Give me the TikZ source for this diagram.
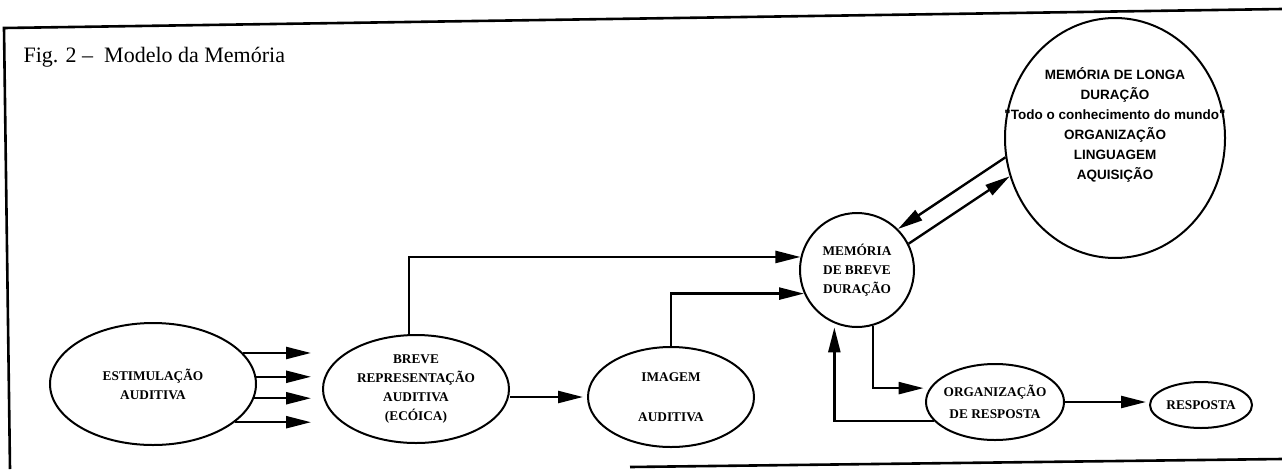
\documentclass[tikz,border=0pt]{standalone}
\usepackage{fontspec}
\setmainfont{Liberation Serif}
\newfontfamily\arialf{Liberation Sans}
\usetikzlibrary{shapes.geometric,arrows.meta,positioning}

\begin{document}
\begin{tikzpicture}[x=1pt,y=-1pt,
        elip/.style={
                draw,
                ellipse,
                line width=2pt,
                inner sep=0pt,
                align=center,
                font=\fontsize{13.3}{19}\selectfont\bfseries
            },
        flec/.style={
                line width=2.4pt,
                -{Triangle[length=25pt,width=12pt]}
            }
    ]
    \useasboundingbox (0,0) rectangle (1282,469);
    % moldura
    \draw[line width=2.6pt] (10,469) -- (4,28) -- (1282,9);
    \draw[line width=2.6pt] (630,467) -- (1282,459);
    \node[anchor=base west,font=\fontsize{22}{26}\selectfont] (titulo) at (20,62)
    {Fig. 2 --\enspace Modelo da Memória};

    \node[elip,minimum width=206pt,minimum height=122pt] (estim) at (153,384)
    {ESTIMULAÇÃO\\AUDITIVA};
    \node[elip,minimum width=186pt,minimum height=108pt] (brev) at (416,389)
    {BREVE\\REPRESENTAÇÃO\\AUDITIVA\\(ECÓICA)};
    \node[elip,minimum width=166pt,minimum height=100pt] (imag) at (671,397)
    {IMAGEM\\[21pt]AUDITIVA};
    \node[elip,minimum width=114pt,minimum height=114pt] (mbd) at (857,270)
    {MEMÓRIA\\DE BREVE\\DURAÇÃO};
    \node[elip,inner xsep=-14pt,minimum width=138pt,minimum height=76pt] (org) at (995,402)
    {ORGANIZAÇÃO\\[3pt]DE RESPOSTA};
    \node[elip,minimum width=102pt,minimum height=46pt] (resp) at (1201,405)
    {RESPOSTA};
    \node[draw,ellipse,line width=2pt,minimum width=220pt,minimum height=240pt] (longa) at (1115,138) {};
    \node[align=center,font=\arialf\bfseries\fontsize{13.5}{20}\selectfont] (longatxt) at (1115,125)
    {MEMÓRIA DE LONGA\\DURAÇÃO\\"Todo o conhecimento do mundo"\\ORGANIZAÇÃO\\LINGUAGEM\\AQUISIÇÃO};

    \foreach \ang in {19,4,-8,-25}
    \draw[flec,shorten >=11pt] (estim.\ang) -- (estim.\ang -| brev.west);

    \draw[flec] ([xshift=-7pt]brev.north) |- (mbd.167);
    \draw[flec,shorten >=4pt] (brev.east |- imag.west) -- (imag.west);
    \draw[flec] (imag.north) |- (mbd.204);
    \draw[flec] (longa.190) -- (mbd.45);
    \draw[flec] (mbd.27) -- (longa.200);
    \draw[flec,shorten >=6pt] (mbd.-74) |- (org.168);
    \draw[flec,shorten >=4pt] (org.197) -| (mbd.-113);
    \draw[flec,shorten >=3pt] (org.east) -- (org.east -| resp.west);
\end{tikzpicture}
\end{document}
